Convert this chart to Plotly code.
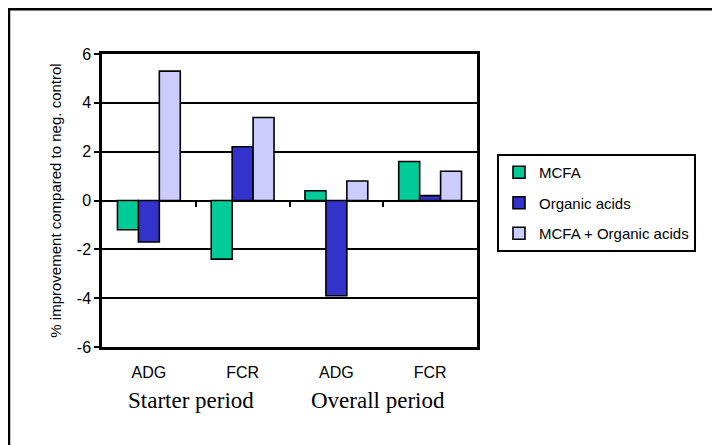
import plotly.graph_objects as go

categories = ["ADG", "FCR", "ADG", "FCR"]
periods = ["Starter period", "Overall period"]
mcfa = [-1.2, -2.4, 0.4, 1.6]
organic_acids = [-1.7, 2.2, -3.9, 0.2]
mcfa_organic = [5.3, 3.4, 0.8, 1.2]
series_names = ["MCFA", "Organic acids", "MCFA + Organic acids"]
series_colors = ["#00CC99", "#3333CC", "#CCCCFF"]
y_tick_values = [-6, -4, -2, 0, 2, 4, 6]
y_tick_labels = ["-6", "-4", "-2", "0", "2", "4", "6"]

positions = list(range(len(categories)))

fig = go.Figure()
for name, vals, col in zip(series_names, [mcfa, organic_acids, mcfa_organic], series_colors):
    fig.add_trace(go.Bar(
        x=positions, y=vals, name=name, legendgroup=name,
        marker=dict(color=col, line=dict(color="black", width=1.6)),
    ))

# invisible helper trace so the zero-line tick axis is drawn
fig.add_trace(go.Scatter(x=[positions[0]], y=[0], xaxis="x2", mode="markers",
                         marker=dict(opacity=0), showlegend=False, hoverinfo="skip"))

font_sans = "Arial, Liberation Sans, sans-serif"
font_serif = "Times New Roman, Liberation Serif, serif"

fig.update_layout(
    width=712, height=437,
    margin=dict(l=94, r=243, t=46, b=98),
    paper_bgcolor="white", plot_bgcolor="white",
    barmode="group", bargap=0.33, bargroupgap=0,
    font=dict(family=font_sans, size=15, color="black"),
    xaxis=dict(
        range=[-0.5, len(categories) - 0.5],
        tickvals=positions, ticktext=categories,
        showline=True, linecolor="black", linewidth=2.5, mirror=True,
        showgrid=False, zeroline=False,
        ticks="", ticklabelstandoff=9,
        tickfont=dict(family=font_sans, size=16),
    ),
    xaxis2=dict(
        overlaying="x", anchor="free", position=0.5, side="bottom",
        range=[-0.5, len(categories) - 0.5],
        tickvals=[p + 0.5 for p in positions[:-1]],
        ticks="outside", ticklen=5, tickwidth=2, tickcolor="black",
        showticklabels=False, showline=False, showgrid=False, zeroline=False,
    ),
    yaxis=dict(
        range=[-6, 6], tickvals=y_tick_values, ticktext=y_tick_labels,
        showline=True, linecolor="black", linewidth=2.5, mirror=True,
        showgrid=True, gridcolor="black", gridwidth=1.5,
        zeroline=True, zerolinecolor="black", zerolinewidth=2,
        ticks="outside", ticklen=5, tickwidth=1.5, tickcolor="black",
        tickfont=dict(family=font_sans, size=16),
        title=dict(text="% improvement compared to neg. control",
                   font=dict(family=font_sans, size=15), standoff=12),
    ),
    legend=dict(
        x=1.0533, y=0.6587, xanchor="left", yanchor="top",
        bordercolor="black", borderwidth=2, bgcolor="white",
        font=dict(family=font_sans, size=15),
        tracegroupgap=8, traceorder="grouped",
    ),
)

for i, p in enumerate(periods):
    fig.add_annotation(
        x=positions[2 * i] + 0.5, y=-0.181, xref="x", yref="paper",
        yanchor="middle",
        text=p, showarrow=False, xshift=-5,
        font=dict(family=font_serif, size=23, color="black"),
    )

# outer chart border (only top and left visible in the reference)
fig.add_shape(type="rect", xref="paper", yref="paper",
              x0=-0.2480, x1=1.7, y0=-0.4, y1=1.153,
              line=dict(color="black", width=2.5), layer="below")

fig.write_html("out.html")
